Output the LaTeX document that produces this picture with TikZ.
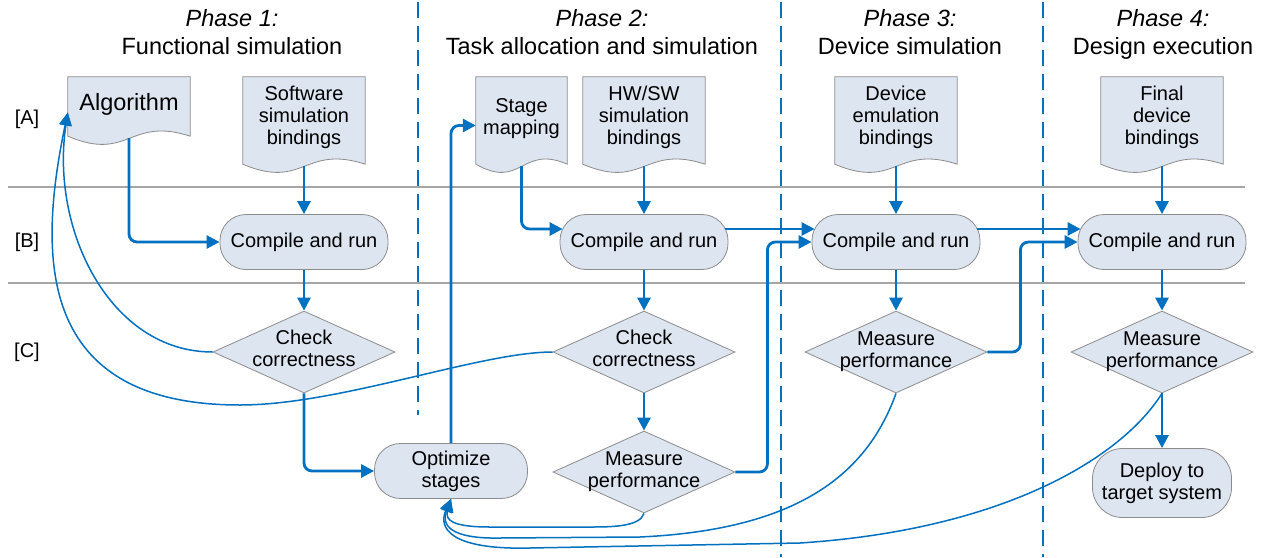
\documentclass[tikz,border=0pt]{standalone}
\usepackage{fontspec}
\setmainfont{Liberation Sans}
\usetikzlibrary{arrows.meta,shapes.geometric,calc,backgrounds}
\definecolor{flowblue}{RGB}{0,112,192}
\definecolor{shapefill}{RGB}{221,229,241}
\definecolor{shapeline}{RGB}{140,140,140}
\definecolor{sepgray}{RGB}{166,166,166}
\newcommand{\dd}[1]{\rule[-#1]{0pt}{#1}}
\newcommand{\docshape}[1]{\path[docline] (#1.north west) -- (#1.north east) -- ($(#1.south east)+(0,-2)$) .. controls ($(#1.south)+(0,-22)$) and ($(#1.south)+(0,24)$) .. ($(#1.south west)+(0,-2)$) -- cycle;}
\tikzset{
 txt/.style={font=\fontsize{20}{22}\selectfont, align=center},
 crbox/.style={txt, draw=shapeline, line width=0.8pt, fill=shapefill, rounded corners=26pt, minimum width=168pt, minimum height=55pt, inner sep=0pt},
 dia/.style={txt, diamond, draw=shapeline, line width=0.8pt, fill=shapefill, minimum width=182pt, minimum height=82pt, inner sep=-20pt, aspect=2.2},
 docnode/.style={txt, minimum width=122pt, minimum height=89pt, inner sep=0pt},
 docline/.style={draw=shapeline, line width=0.8pt, fill=shapefill},
 flow/.style={draw=flowblue, line width=2.8pt, rounded corners=8pt, -{Triangle[length=13pt,width=13pt]}},
 back/.style={draw=flowblue, line width=1.5pt, -{Triangle[length=13pt,width=12pt]}},
 phase/.style={draw=flowblue, line width=2.8pt, dash pattern=on 16pt off 8pt},
 sep/.style={draw=sepgray, line width=2.5pt},
 head/.style={font=\fontsize{23.5}{28}\selectfont, align=center},
 rowlab/.style={font=\fontsize{20}{22}\selectfont},
}
\begin{document}
\begin{tikzpicture}[x=1pt,y=-1pt]
\useasboundingbox (0,0) rectangle (1261,557);
% separators and phase lines
\draw[sep] (8,187) -- (1245,187);
\draw[sep] (8,283) -- (1245,283);
\draw[phase] (418,2) -- (418,415);
\draw[phase] (781,2) -- (781,557);
\draw[phase] (1043,2) -- (1043,557);
% headings
\node[head] (h1) at (232,34.5) {\textit{Phase 1:}\\Functional simulation\vphantom{g}};
\node[head] (h2) at (602,34.5) {\textit{Phase 2:}\\Task allocation and simulation\vphantom{g}};
\node[head] (h3) at (910,34.5) {\textit{Phase 3:}\\Device simulation\vphantom{g}};
\node[head] (h4) at (1163,34.5) {\textit{Phase 4:}\\Design execution};
% row labels
\node[rowlab] (la) at (27,119) {[A]};
\node[rowlab] (lb) at (27,242) {[B]};
\node[rowlab] (lc) at (27,352) {[C]};
% documents
\node[docnode, minimum height=61pt, font=\fontsize{23.5}{28}\selectfont] (algo) at (129,107.5) {Algorithm\dd{11pt}};
\node[docnode] (ssb) at (304,121.5) {Software\\simulation\\bindings\dd{13pt}};
\node[docnode, minimum width=91pt] (sm) at (521.5,121.5) {Stage\\mapping\dd{9pt}};
\node[docnode] (hwsw) at (644,121.5) {HW/SW\\simulation\\bindings\dd{13pt}};
\node[docnode] (deb) at (896,121.5) {Device\\emulation\\bindings\dd{13pt}};
\node[docnode] (fdb) at (1162,121.5) {Final\\device\\bindings\dd{13pt}};
\begin{scope}[on background layer]
\docshape{algo}
\docshape{ssb}
\docshape{sm}
\docshape{hwsw}
\docshape{deb}
\docshape{fdb}
\end{scope}
% process boxes
\node[crbox] (cr1) at (304,242) {Compile and run};
\node[crbox] (cr2) at (644,242) {Compile and run};
\node[crbox] (cr3) at (896,242) {Compile and run};
\node[crbox] (cr4) at (1162,242) {Compile and run};
\node[crbox, minimum width=153pt] (opt) at (451,471) {Optimize\\stages};
\node[crbox, minimum width=139pt, minimum height=69pt, rounded corners=30pt] (dep) at (1162,483) {Deploy to\\target system};
% decisions
\node[dia] (cc1) at (304,352) {Check\\correctness\dd{7pt}};
\node[dia] (cc2) at (644,352) {Check\\correctness\dd{7pt}};
\node[dia] (mp2) at (644,472) {Measure\\performance};
\node[dia] (mp3) at (896,352) {Measure\\performance};
\node[dia] (mp4) at (1162,352) {Measure\\performance};
% flow connectors
\draw[flow] (algo.south) |- (cr1.west);
\draw[flow] (ssb.south) -- (cr1.north);
\draw[flow] (cr1.south) -- (cc1.north);
\draw[flow] (cc1.south) |- (opt.west);
\draw[flow] (opt.north) |- ([yshift=-4pt]sm.west);
\draw[flow] (sm.south) |- ([shift={(3,-13)}]cr2.west);
\draw[flow] (hwsw.south) -- (cr2.north);
\draw[flow] (cr2.south) -- (cc2.north);
\draw[flow] (cc2.south) -- (mp2.north);
\draw[flow] ([shift={(-3,-13)}]cr2.east) -- ([shift={(3,-13)}]cr3.west);
\draw[flow] (mp2.east) -- ++(32,0) |- (cr3.west);
\draw[flow] (deb.south) -- (cr3.north);
\draw[flow] (cr3.south) -- (mp3.north);
\draw[flow] ([shift={(-3,-13)}]cr3.east) -- ([shift={(3,-13)}]cr4.west);
\draw[flow] (mp3.east) -- ++(33,0) |- (cr4.west);
\draw[flow] (fdb.south) -- (cr4.north);
\draw[flow] (cr4.south) -- (mp4.north);
\draw[flow] (mp4.south) -- (dep.north);
% feedback curves
\draw[back] (cc1.west) .. controls (110,352) and (50,230) .. ([yshift=-5pt]algo.west);
\draw[back] (cc2.west) .. controls (480,352) and (340,405) .. (240,405) .. controls (35,405) and (38,255) .. ([yshift=-5pt]algo.west);
\draw[back] (mp2.south) .. controls (640,527) and (610,527) .. (590,527) -- (490,527) .. controls (452,527) and (445,520) .. (opt.south);
\draw[back] (mp3.south) .. controls (865,480) and (790,530) .. (640,537) -- (500,538) .. controls (450,539) and (441,525) .. (opt.south);
\draw[back] (mp4.south) .. controls (1120,460) and (1000,530) .. (800,543) -- (530,548) .. controls (450,550) and (438,528) .. (opt.south);
\end{tikzpicture}
\end{document}
